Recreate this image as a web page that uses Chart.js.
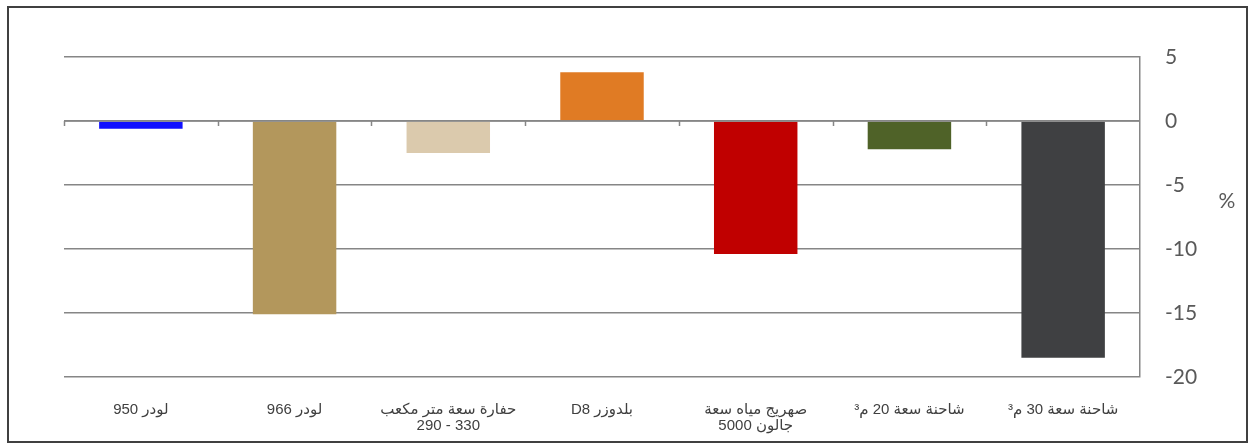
<!DOCTYPE html>
<html>
<head>
<meta charset="utf-8">
<script src="https://cdn.jsdelivr.net/npm/chart.js@4/dist/chart.umd.min.js"></script>
<style>
  html, body { margin: 0; padding: 0; background: #fff; }
  #wrap { width: 1254px; height: 444px; position: relative; }
</style>
</head>
<body>
<div id="wrap"><canvas id="c" width="1254" height="444"></canvas></div>
<script>
// ---- data ----
const categories = [
  ["لودر 950"],
  ["لودر 966"],
  ["حفارة سعة متر مكعب", "330 - 290"],
  ["بلدوزر D8"],
  ["صهريج مياه سعة", "جالون 5000"],
  ["شاحنة سعة 20 م³"],
  ["شاحنة سعة 30 م³"]
];
const values = [-0.6, -15.1, -2.5, 3.8, -10.4, -2.2, -18.5];
const barColors = ["#1010FF", "#B3975C", "#DBCAAD", "#E07B24", "#C00000", "#4F6228", "#3F4042"];
const yTicks = [5, 0, -5, -10, -15, -20];
const unitLabel = "%";

const decor = {
  id: 'decor',
  beforeDraw(chart) {
    const ctx = chart.ctx;
    ctx.save();
    ctx.fillStyle = '#fff';
    ctx.fillRect(0, 0, chart.width, chart.height);
    ctx.restore();
  },
  afterLayout(chart) {
    const xs = chart.scales.x;
    if (!xs._rtlPatched) {
      const orig = xs.drawLabels;
      xs.drawLabels = function (area) {
        this.ctx.save();
        this.ctx.direction = 'rtl';
        orig.call(this, area);
        this.ctx.restore();
      };
      xs._rtlPatched = true;
    }
  },
  afterDatasetsDraw(chart) {
    const ctx = chart.ctx;
    const xs = chart.scales.x, ys = chart.scales.y;
    const y0 = ys.getPixelForValue(0);
    ctx.save();
    ctx.strokeStyle = '#868686';
    ctx.lineWidth = 1.5;
    ctx.beginPath();
    ctx.moveTo(xs.left, y0);
    ctx.lineTo(xs.right, y0);
    for (let k = 0; k < categories.length; k++) {
      const x = Math.round(xs.getPixelForValue(k - 0.5)) + 0.5;
      ctx.moveTo(x, y0);
      ctx.lineTo(x, y0 + 5);
    }
    ctx.stroke();
    ctx.restore();
  },
  afterDraw(chart) {
    const ctx = chart.ctx;
    const ys = chart.scales.y;
    ctx.save();
    ctx.fillStyle = '#595959';
    ctx.font = '21px Lato, "Open Sans", sans-serif';
    ctx.textAlign = 'center';
    ctx.textBaseline = 'middle';
    ctx.fillText(unitLabel, ys.right - 27, (ys.top + ys.bottom) / 2 - 16);
    ctx.strokeStyle = '#404040';
    ctx.lineWidth = 2;
    ctx.strokeRect(8, 7, 1239, 435);
    ctx.restore();
  }
};

new Chart(document.getElementById('c'), {
  type: 'bar',
  data: {
    labels: categories,
    datasets: [{
      data: values,
      backgroundColor: barColors,
      borderWidth: 0,
      categoryPercentage: 1.0,
      barPercentage: 0.543
    }]
  },
  options: {
    responsive: false,
    animation: false,
    devicePixelRatio: 1,
    layout: { padding: { left: 64, top: 57, right: 0, bottom: 0 } },
    plugins: { legend: { display: false }, tooltip: { enabled: false } },
    scales: {
      x: {
        grid: { display: false, drawTicks: false },
        border: { display: false },
        ticks: {
          color: '#404040',
          font: { family: '"Liberation Sans", "DejaVu Sans", sans-serif', size: 15, lineHeight: 1.05 },
          padding: 25,
          maxRotation: 0,
          autoSkip: false
        },
        afterFit(scale) { scale.height = 67; }
      },
      y: {
        position: 'right',
        min: -20,
        max: 5,
        afterBuildTicks(scale) { scale.ticks = yTicks.slice().reverse().map(v => ({ value: v })); },
        grid: { color: '#868686', lineWidth: 1.5, drawTicks: false },
        border: { display: true, color: '#868686', width: 1.5 },
        ticks: {
          color: '#595959',
          font: { family: 'Lato, "Open Sans", sans-serif', size: 21 },
          padding: 25
        },
        afterFit(scale) { scale.width = 114; }
      }
    }
  },
  plugins: [decor]
});
</script>
</body>
</html>
